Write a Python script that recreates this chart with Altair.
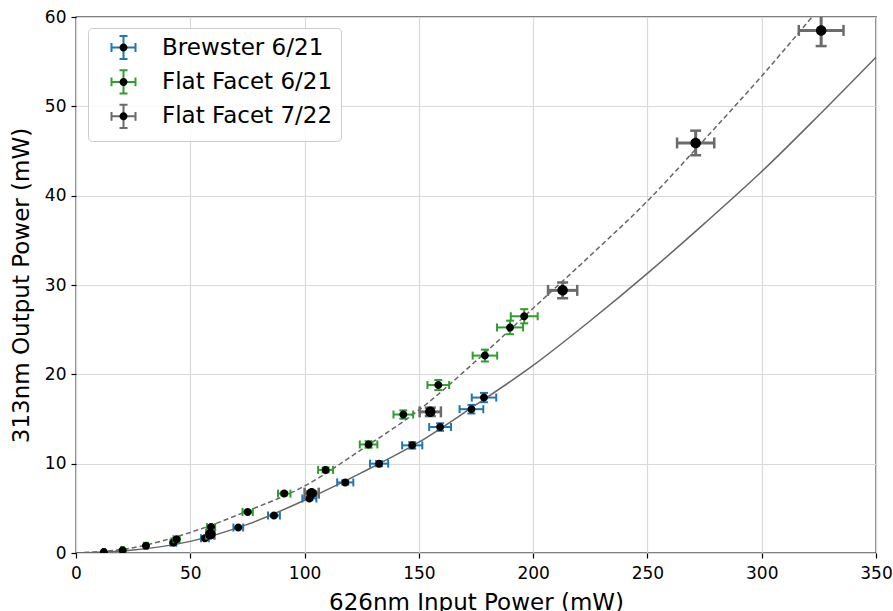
import altair as alt
import pandas as pd

# Measured points: 626 nm input power (mW) and 313 nm output power (mW)
brewster_x = [42.6, 56.4, 71.0, 86.6, 102.1, 117.8, 132.6, 147.1, 159.3, 173.0, 178.5]
brewster_y = [1.15, 1.65, 2.85, 4.2, 6.1, 7.9, 10.0, 12.05, 14.1, 16.1, 17.4]
flat621_x = [12.2, 20.4, 30.6, 44.0, 59.1, 75.1, 91.1, 109.2, 128.0, 143.2, 158.5, 178.9, 189.9, 196.1]
flat621_y = [0.1, 0.3, 0.8, 1.55, 2.9, 4.6, 6.65, 9.3, 12.15, 15.5, 18.8, 22.1, 25.25, 26.5]
flat722_x = [58.8, 103.1, 155.0, 212.9, 271.1, 326.0]
flat722_y = [2.1, 6.7, 15.8, 29.4, 45.9, 58.5]
REL_ERR = 0.03  # relative uncertainty on both powers

# Fitted conversion curves (solid: Brewster, dashed: flat facet)
fit_brewster_x = [0, 25, 50, 75, 100, 125, 150, 175, 200, 225, 250, 275, 300, 325, 350]
fit_brewster_y = [0, 0.33, 1.3, 3.2, 5.9, 9.0, 12.4, 16.6, 21.0, 26.0, 31.3, 36.9, 42.7, 49.0, 55.5]
fit_flat_x = [0, 25, 50, 75, 100, 125, 150, 175, 200, 225, 250, 275, 300, 322]
fit_flat_y = [0, 0.6, 2.3, 4.7, 7.5, 11.6, 16.0, 21.5, 27.4, 33.3, 39.4, 46.3, 53.4, 60.0]

NAMES = ["Brewster 6/21", "Flat Facet 6/21", "Flat Facet 7/22"]
COLORS = ["#1f77b4", "#2ca02c", "#6b6b6b"]
CURVE = "#666666"
FONT = "DejaVu Sans"

rows = []
for name, xs, ys in zip(NAMES, [brewster_x, flat621_x, flat722_x],
                        [brewster_y, flat621_y, flat722_y]):
    for x, y in zip(xs, ys):
        rows.append(dict(series=name, dot=name + " ", x=x, y=y,
                         xlo=x * (1 - REL_ERR), xhi=x * (1 + REL_ERR),
                         ylo=y * (1 - REL_ERR), yhi=y * (1 + REL_ERR)))
df = pd.DataFrame(rows)

XS = alt.Scale(domain=[0, 350], nice=False, zero=False)
YS = alt.Scale(domain=[0, 60], nice=False, zero=False)
X_AXIS = alt.Axis(values=list(range(0, 351, 50)), tickSize=5, labelPadding=7,
                  titleY=56, titleBaseline="alphabetic", labelFlush=False)
Y_AXIS = alt.Axis(values=list(range(0, 61, 10)), tickSize=5, labelPadding=5,
                  titleX=-48, titleBaseline="alphabetic", titleAngle=270)
XTITLE = "626nm Input Power (mW)"
YTITLE = "313nm Output Power (mW)"


def xenc(field):
    return alt.X(f"{field}:Q", scale=XS, axis=X_AXIS, title=XTITLE)


def yenc(field):
    return alt.Y(f"{field}:Q", scale=YS, axis=Y_AXIS, title=YTITLE)


# legend glyphs: an error-bar cross and a dot, both spanning the same box
EB = ("M-3,-3L-3,-3M3,3L3,3"
      "M-3,0H3M0,-2.9V2.9M-3,-1.1V1.1M3,-1.1V1.1M-1,-2.9H1M-1,2.9H1")
DOT = "M-3,-3L-3,-3M3,3L3,3M-1,0A1,1 0 1,0 1,0A1,1 0 1,0 -1,0Z"

LEG_COMMON = dict(title=None, orient="none", legendX=12, legendY=11,
                  symbolSize=64, symbolStrokeWidth=2, labelFont=FONT,
                  labelFontSize=23, labelColor="black", labelLimit=400,
                  padding=8, rowPadding=1.4, symbolOffset=16, labelOffset=27,
                  symbolOpacity=1)
CLEG = alt.Legend(symbolType=EB, fillColor="rgba(255,255,255,0.85)",
                  strokeColor="#cccccc", cornerRadius=4, zindex=1,
                  **LEG_COMMON)
SLEG = alt.Legend(symbolFillColor="black", symbolStrokeColor="transparent",
                  labelOpacity=0, zindex=2, **LEG_COMMON)
CSCALE = alt.Scale(domain=NAMES, range=COLORS)
SSCALE = alt.Scale(domain=[n + " " for n in NAMES], range=[DOT, DOT, DOT])

# per-series drawing style: bar width, cap length, cap thickness, dot size
STYLE = {
    "Brewster 6/21": (2, 8, 2, 64),
    "Flat Facet 6/21": (2, 8, 2, 64),
    "Flat Facet 7/22": (3, 11, 2.5, 110),
}


def series_layers(name):
    bar_w, cap_len, cap_w, dot_size = STYLE[name]
    base = alt.Chart(df).transform_filter(alt.datum.series == name)
    color = alt.Color("series:N", scale=CSCALE, legend=CLEG)
    hbar = base.mark_rule(strokeWidth=bar_w, clip=True).encode(
        x=xenc("xlo"), x2="xhi:Q", y=yenc("y"), color=color)
    vbar = base.mark_rule(strokeWidth=bar_w, clip=True).encode(
        x=xenc("x"), y=yenc("ylo"), y2="yhi:Q", color=color)
    caps = []
    for fx, fy, orient in [("xlo", "y", "vertical"), ("xhi", "y", "vertical"),
                           ("x", "ylo", "horizontal"), ("x", "yhi", "horizontal")]:
        caps.append(base.mark_tick(orient=orient, size=cap_len, thickness=cap_w,
                                   opacity=1, clip=True).encode(
            x=xenc(fx), y=yenc(fy), color=color))
    dots = base.mark_point(filled=True, color="black", opacity=1, size=dot_size,
                           clip=True).encode(
        x=xenc("x"), y=yenc("y"),
        shape=alt.Shape("dot:N", scale=SSCALE, legend=SLEG))
    return [hbar, vbar] + caps + [dots]


solid = alt.Chart(pd.DataFrame({"x": fit_brewster_x, "y": fit_brewster_y})).mark_line(
    color=CURVE, strokeWidth=1.5, interpolate="monotone", clip=True).encode(
    x=xenc("x"), y=yenc("y"))
dashed = alt.Chart(pd.DataFrame({"x": fit_flat_x, "y": fit_flat_y})).mark_line(
    color=CURVE, strokeWidth=1.5, strokeDash=[5, 3], interpolate="monotone",
    clip=True).encode(x=xenc("x"), y=yenc("y"))

layers = [solid, dashed]
for n in NAMES:
    layers += series_layers(n)

chart = alt.layer(*layers).properties(
    width=800, height=536,
    autosize=alt.AutoSizeParams(type="none"),
    padding={"left": 76, "top": 17, "right": 17, "bottom": 59},
).configure_view(stroke="black", strokeWidth=1.3).configure_axis(
    domain=False, grid=True, gridColor="#d9d9d9", gridWidth=1.2,
    tickColor="black", tickWidth=1.2, labelFont=FONT, labelFontSize=17,
    labelColor="black", titleFont=FONT, titleFontSize=23,
    titleFontWeight="normal", titleColor="black", labelOverlap=False,
)

chart.save("out.html", embed_options={"renderer": "svg", "actions": False})
